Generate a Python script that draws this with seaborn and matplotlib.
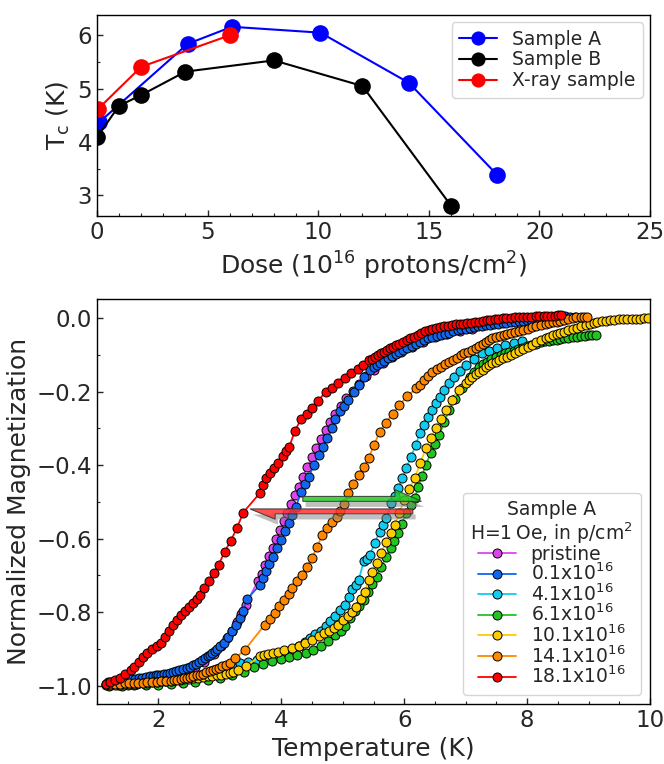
import matplotlib
matplotlib.use("Agg")
import matplotlib.pyplot as plt
import matplotlib.patheffects as pe
from matplotlib.ticker import MultipleLocator
import pandas as pd
import seaborn as sns

# ---- top panel: Tc vs dose ----
dose_a = [0.1, 4.1, 6.1, 10.1, 14.1, 18.1]
tc_a = [4.37, 5.84, 6.16, 6.05, 5.11, 3.38]
dose_b = [0.0, 1.0, 2.0, 4.0, 8.0, 12.0, 16.0]
tc_b = [4.09, 4.68, 4.88, 5.32, 5.53, 5.05, 2.81]
dose_x = [0.05, 2.0, 6.0]
tc_x = [4.62, 5.41, 6.0]
top_labels = ["Sample A", "Sample B", "X-ray sample"]
top_colors = ["#0000ff", "#000000", "#ff0000"]

# ---- bottom panel: normalized magnetization vs temperature ----
dose_labels = ["pristine", "0.1x10$^{16}$", "4.1x10$^{16}$", "6.1x10$^{16}$",
               "10.1x10$^{16}$", "14.1x10$^{16}$", "18.1x10$^{16}$"]
curve_colors = ["#dd44ee", "#1166ee", "#11ccee", "#22c422", "#ffcc00", "#ff8800", "#ff0000"]

t_pristine = [1.20, 1.40, 1.60, 1.80, 2.00, 2.20, 2.40, 2.60, 2.75, 2.90, 3.02, 3.12, 3.20, 3.28,
              3.35, 3.42, 3.62, 3.68, 3.74, 3.80, 3.86, 3.92, 3.98, 4.04, 4.10, 4.16, 4.22, 4.28,
              4.35, 4.42, 4.50, 4.57, 4.64, 4.72, 4.80, 4.88, 4.97, 5.06, 5.16, 5.26, 5.38, 5.50,
              5.65, 5.80, 5.95, 6.12, 6.30, 6.50, 6.70, 6.90, 7.10]
m_pristine = [-0.995, -0.99, -0.985, -0.98, -0.975, -0.968, -0.96, -0.948, -0.935, -0.915, -0.893,
              -0.87, -0.85, -0.828, -0.805, -0.78, -0.715, -0.695, -0.672, -0.648, -0.625, -0.600,
              -0.576, -0.553, -0.530, -0.505, -0.48, -0.458, -0.432, -0.405, -0.378, -0.352, -0.330,
              -0.305, -0.282, -0.26, -0.238, -0.218, -0.198, -0.178, -0.158, -0.14, -0.122, -0.106,
              -0.092, -0.078, -0.064, -0.052, -0.043, -0.035, -0.028]

t_01 = [1.18, 1.23, 1.28, 1.33, 1.38, 1.44, 1.50, 1.56, 1.62, 1.68, 1.74, 1.80, 1.86, 1.91, 1.96,
        2.00, 2.04, 2.09, 2.14, 2.19, 2.24, 2.29, 2.34, 2.40, 2.47, 2.52, 2.56, 2.61, 2.66, 2.71,
        2.76, 2.80, 2.84, 2.88, 2.92, 2.96, 3.00, 3.06, 3.13, 3.19, 3.26, 3.33, 3.38, 3.44, 3.65,
        3.70, 3.75, 3.80, 3.86, 3.93, 4.00, 4.06, 4.13, 4.18, 4.24, 4.32, 4.38, 4.45, 4.53, 4.61,
        4.68, 4.75, 4.82, 4.88, 4.96, 5.02, 5.09, 5.18, 5.26, 5.35, 5.44, 5.50, 5.55, 5.61, 5.67,
        5.73, 5.80, 5.86, 5.92, 5.98, 6.05, 6.12, 6.19, 6.25, 6.32, 6.39, 6.46, 6.53, 6.60, 6.66,
        6.73, 6.80, 6.87, 6.93, 7.00, 7.07, 7.14, 7.20, 7.27, 7.33, 7.40, 7.46, 7.53, 7.60, 7.66,
        7.73, 7.80, 7.87, 7.94, 8.00, 8.07, 8.14, 8.20, 8.27, 8.34, 8.41, 8.48, 8.55, 8.62, 8.70,
        8.78]
m_01 = [-0.99, -0.99, -0.99, -0.988, -0.987, -0.986, -0.984, -0.983, -0.981, -0.98, -0.978,
        -0.977, -0.975, -0.974, -0.972, -0.971, -0.970, -0.969, -0.967, -0.965, -0.962, -0.96,
        -0.958, -0.955, -0.952, -0.948, -0.944, -0.94, -0.935, -0.93, -0.925, -0.92, -0.916,
        -0.91, -0.905, -0.899, -0.893, -0.884, -0.868, -0.852, -0.835, -0.816, -0.797, -0.765,
        -0.726, -0.707, -0.689, -0.670, -0.649, -0.626, -0.603, -0.580, -0.558, -0.535, -0.513,
        -0.472, -0.452, -0.431, -0.40, -0.372, -0.35, -0.327, -0.30, -0.273, -0.253, -0.238,
        -0.223, -0.202, -0.182, -0.161, -0.141, -0.134, -0.128, -0.122, -0.116, -0.109, -0.103,
        -0.097, -0.092, -0.087, -0.082, -0.076, -0.07, -0.065, -0.06, -0.055, -0.051, -0.048,
        -0.045, -0.042, -0.039, -0.036, -0.033, -0.030, -0.028, -0.026, -0.024, -0.022, -0.021,
        -0.019, -0.018, -0.016, -0.0145, -0.013, -0.012, -0.010, -0.009, -0.008, -0.007, -0.006,
        -0.005, -0.003, -0.002, 0.0, 0.001, 0.002, 0.003, 0.004, 0.005, 0.004, 0.004]

t_41 = [1.20, 1.35, 1.50, 1.65, 1.80, 1.95, 2.10, 2.25, 2.40, 2.55, 2.70, 2.85, 3.00, 3.15, 3.25,
        3.33, 3.45, 3.60, 3.75, 3.90, 4.05, 4.18, 4.29, 4.38, 4.47, 4.55, 4.64, 4.72, 4.80, 4.88,
        4.96, 5.04, 5.10, 5.15, 5.21, 5.26, 5.34, 5.39, 5.44, 5.52, 5.60, 5.65, 5.71, 5.79, 5.85,
        5.90, 5.97, 6.03, 6.11, 6.19, 6.25, 6.32, 6.38, 6.45, 6.51, 6.58, 6.65, 6.73, 6.81, 6.90,
        7.00, 7.13, 7.26, 7.38, 7.51, 7.64, 7.78, 7.92]
m_41 = [-0.998, -0.997, -0.997, -0.995, -0.993, -0.99, -0.988, -0.985, -0.982, -0.978, -0.975,
        -0.97, -0.965, -0.958, -0.952, -0.938, -0.935, -0.93, -0.926, -0.921, -0.912, -0.902,
        -0.893, -0.882, -0.870, -0.860, -0.850, -0.839, -0.825, -0.81, -0.795, -0.781, -0.760,
        -0.738, -0.725, -0.712, -0.662, -0.655, -0.644, -0.612, -0.581, -0.562, -0.544, -0.504,
        -0.483, -0.463, -0.436, -0.409, -0.377, -0.345, -0.313, -0.290, -0.268, -0.250, -0.232,
        -0.214, -0.196, -0.177, -0.159, -0.143, -0.128, -0.112, -0.096, -0.088, -0.080, -0.073,
        -0.067, -0.061]

t_61 = [1.20, 1.40, 1.60, 1.80, 2.00, 2.20, 2.40, 2.60, 2.80, 3.00, 3.20, 3.40, 3.55, 3.70, 3.85,
        4.00, 4.12, 4.26, 4.40, 4.52, 4.64, 4.76, 4.88, 4.97, 5.04, 5.12, 5.20, 5.27, 5.34, 5.41,
        5.48, 5.55, 5.63, 5.71, 5.78, 5.84, 5.90, 5.96, 6.03, 6.11, 6.17, 6.23, 6.29, 6.35, 6.43,
        6.50, 6.57, 6.65, 6.73, 6.83, 6.94, 7.07, 7.14, 7.21, 7.28, 7.35, 7.42, 7.50, 7.57, 7.64,
        7.71, 7.78, 7.85, 7.92, 8.00, 8.07, 8.15, 8.22, 8.29, 8.36, 8.42, 8.48, 8.54, 8.60, 8.67,
        8.74, 8.81, 8.88, 8.94, 9.00, 9.06, 9.12]
m_61 = [-1.0, -1.0, -0.999, -0.998, -0.997, -0.995, -0.993, -0.99, -0.985, -0.98, -0.972, -0.962,
        -0.95, -0.94, -0.934, -0.928, -0.922, -0.917, -0.911, -0.902, -0.892, -0.878, -0.862,
        -0.850, -0.839, -0.815, -0.797, -0.782, -0.766, -0.745, -0.724, -0.703, -0.676, -0.649,
        -0.625, -0.605, -0.585, -0.560, -0.531, -0.508, -0.490, -0.460, -0.430, -0.399, -0.368,
        -0.342, -0.318, -0.283, -0.25, -0.220, -0.191, -0.160, -0.146, -0.132, -0.125, -0.118,
        -0.112, -0.106, -0.101, -0.096, -0.092, -0.088, -0.084, -0.080, -0.076, -0.073, -0.069,
        -0.066, -0.063, -0.061, -0.059, -0.058, -0.056, -0.055, -0.053, -0.052, -0.050, -0.049,
        -0.048, -0.047, -0.046, -0.045]

t_101 = [1.15, 1.22, 1.30, 1.37, 1.45, 1.52, 1.60, 1.67, 1.75, 1.82, 1.90, 1.97, 2.05, 2.12, 2.20,
         2.27, 2.35, 2.42, 2.50, 2.57, 2.65, 2.72, 2.80, 2.87, 2.95, 3.02, 3.10, 3.16, 3.22, 3.30,
         3.43, 3.65, 3.72, 3.79, 3.86, 3.95, 4.05, 4.18, 4.28, 4.39, 4.50, 4.61, 4.70, 4.78, 4.86,
         4.93, 5.00, 5.08, 5.15, 5.22, 5.29, 5.36, 5.42, 5.48, 5.55, 5.62, 5.71, 5.78, 5.85, 5.92,
         6.00, 6.08, 6.17, 6.26, 6.35, 6.43, 6.51, 6.60, 6.68, 6.78, 6.89, 7.00, 7.05, 7.10, 7.16,
         7.22, 7.28, 7.33, 7.38, 7.43, 7.49, 7.55, 7.61, 7.68, 7.74, 7.80, 7.87, 7.94, 8.01, 8.08,
         8.15, 8.23, 8.30, 8.36, 8.42, 8.48, 8.54, 8.60, 8.67, 8.74, 8.81, 8.88, 8.95, 9.02, 9.08,
         9.14, 9.21, 9.28, 9.35, 9.42, 9.49, 9.56, 9.63, 9.70, 9.77, 9.84, 9.90, 9.97]
m_101 = [-0.998, -0.998, -0.998, -0.997, -0.996, -0.996, -0.995, -0.994, -0.993, -0.992, -0.99,
         -0.989, -0.988, -0.987, -0.986, -0.985, -0.984, -0.983, -0.981, -0.98, -0.978, -0.977,
         -0.975, -0.974, -0.972, -0.97, -0.968, -0.965, -0.962, -0.957, -0.947, -0.920, -0.916,
         -0.914, -0.911, -0.908, -0.903, -0.898, -0.892, -0.884, -0.876, -0.866, -0.858, -0.851,
         -0.842, -0.834, -0.822, -0.810, -0.800, -0.785, -0.765, -0.744, -0.712, -0.69, -0.667,
         -0.64, -0.608, -0.585, -0.562, -0.530, -0.495, -0.465, -0.436, -0.395, -0.354, -0.327,
         -0.300, -0.275, -0.25, -0.222, -0.196, -0.177, -0.168, -0.159, -0.152, -0.146, -0.140,
         -0.134, -0.128, -0.123, -0.118, -0.114, -0.109, -0.105, -0.100, -0.096, -0.090, -0.084,
         -0.078, -0.072, -0.066, -0.060, -0.055, -0.051, -0.047, -0.044, -0.040, -0.037, -0.033,
         -0.030, -0.026, -0.022, -0.018, -0.015, -0.012, -0.010, -0.008, -0.007, -0.005, -0.004,
         -0.003, -0.002, -0.001, -0.001, -0.001, -0.001, 0.0, 0.0]

t_141 = [1.15, 1.22, 1.30, 1.37, 1.45, 1.52, 1.60, 1.67, 1.75, 1.82, 1.90, 1.97, 2.05, 2.12, 2.20,
         2.26, 2.31, 2.37, 2.42, 2.47, 2.52, 2.57, 2.62, 2.67, 2.72, 2.78, 2.84, 2.89, 2.94, 2.99,
         3.04, 3.10, 3.16, 3.25, 3.41, 3.73, 3.81, 3.89, 3.97, 4.05, 4.12, 4.18, 4.26, 4.34, 4.42,
         4.50, 4.58, 4.67, 4.75, 4.83, 4.90, 4.96, 5.02, 5.09, 5.17, 5.26, 5.34, 5.42, 5.51, 5.60,
         5.70, 5.81, 5.92, 6.05, 6.19, 6.25, 6.32, 6.39, 6.46, 6.53, 6.60, 6.66, 6.73, 6.80, 6.86,
         6.92, 6.98, 7.04, 7.10, 7.16, 7.22, 7.28, 7.33, 7.38, 7.43, 7.50, 7.56, 7.62, 7.68, 7.74,
         7.80, 7.87, 7.94, 8.01, 8.08, 8.15, 8.23, 8.30, 8.36, 8.42, 8.48, 8.54, 8.60, 8.67, 8.74,
         8.80, 8.87, 8.93, 8.98]
m_141 = [-0.995, -0.996, -0.996, -0.995, -0.993, -0.993, -0.993, -0.992, -0.992, -0.991, -0.99,
         -0.989, -0.988, -0.987, -0.986, -0.985, -0.984, -0.982, -0.98, -0.978, -0.976, -0.974,
         -0.972, -0.97, -0.967, -0.964, -0.961, -0.958, -0.955, -0.951, -0.947, -0.943, -0.938,
         -0.925, -0.902, -0.834, -0.818, -0.802, -0.784, -0.766, -0.750, -0.735, -0.716, -0.698,
         -0.676, -0.653, -0.622, -0.590, -0.572, -0.554, -0.540, -0.525, -0.505, -0.476, -0.452,
         -0.427, -0.404, -0.381, -0.345, -0.309, -0.285, -0.26, -0.236, -0.213, -0.191, -0.181,
         -0.168, -0.157, -0.146, -0.139, -0.132, -0.125, -0.119, -0.113, -0.107, -0.101, -0.096,
         -0.092, -0.087, -0.081, -0.075, -0.069, -0.064, -0.059, -0.055, -0.051, -0.048, -0.045,
         -0.042, -0.039, -0.037, -0.034, -0.031, -0.028, -0.025, -0.022, -0.019, -0.016, -0.014,
         -0.011, -0.009, -0.007, -0.005, -0.002, 0.0, 0.002, 0.004, 0.004, 0.003]

t_181 = [1.15, 1.22, 1.30, 1.38, 1.46, 1.55, 1.61, 1.68, 1.75, 1.82, 1.90, 1.97, 2.04, 2.10, 2.17,
         2.24, 2.30, 2.36, 2.43, 2.50, 2.56, 2.62, 2.68, 2.75, 2.82, 2.90, 2.98, 3.08, 3.18, 3.28,
         3.38, 3.65, 3.70, 3.75, 3.82, 3.88, 3.94, 4.02, 4.08, 4.13, 4.22, 4.32, 4.42, 4.50, 4.60,
         4.72, 4.82, 4.93, 5.04, 5.14, 5.24, 5.33, 5.42, 5.47, 5.52, 5.57, 5.62, 5.67, 5.72, 5.77,
         5.82, 5.87, 5.92, 5.98, 6.04, 6.10, 6.16, 6.22, 6.28, 6.34, 6.40, 6.46, 6.52, 6.58, 6.65,
         6.72, 6.78, 6.84, 6.90, 6.96, 7.02, 7.08, 7.15, 7.22, 7.28, 7.34, 7.40, 7.47, 7.53, 7.60,
         7.66, 7.73, 7.80, 7.87, 7.94, 8.00, 8.07, 8.14, 8.20, 8.27, 8.33, 8.39, 8.45, 8.50, 8.55]
m_181 = [-0.995, -0.99, -0.985, -0.978, -0.968, -0.957, -0.948, -0.935, -0.922, -0.91, -0.90,
         -0.893, -0.884, -0.868, -0.852, -0.836, -0.82, -0.807, -0.797, -0.786, -0.776, -0.764,
         -0.753, -0.735, -0.715, -0.693, -0.671, -0.635, -0.605, -0.57, -0.529, -0.476, -0.455,
         -0.436, -0.42, -0.408, -0.395, -0.375, -0.362, -0.35, -0.307, -0.275, -0.26, -0.245,
         -0.225, -0.20, -0.19, -0.177, -0.164, -0.15, -0.138, -0.126, -0.114, -0.11, -0.105, -0.10,
         -0.096, -0.091, -0.087, -0.082, -0.078, -0.073, -0.069, -0.064, -0.06, -0.055, -0.05,
         -0.045, -0.04, -0.035, -0.031, -0.028, -0.026, -0.024, -0.022, -0.020, -0.019, -0.017,
         -0.016, -0.015, -0.014, -0.012, -0.011, -0.009, -0.007, -0.005, -0.004, -0.002, -0.001,
         0.0, 0.0, 0.001, 0.002, 0.003, 0.003, 0.004, 0.004, 0.005, 0.005, 0.006, 0.006, 0.006,
         0.006, 0.008, 0.008]

temps = [t_pristine, t_01, t_41, t_61, t_101, t_141, t_181]
mags = [m_pristine, m_01, m_41, m_61, m_101, m_141, m_181]

sns.set_style("ticks")
plt.rcParams.update({
    "font.family": ["DejaVu Sans"],
    "xtick.direction": "in",
    "ytick.direction": "in",
    "axes.edgecolor": "black",
    "axes.linewidth": 1.0,
})

fig = plt.figure(figsize=(6.64, 7.64), dpi=100)
ax_top = fig.add_axes([0.146, 0.717, 0.833, 0.264])
ax_bot = fig.add_axes([0.146, 0.0785, 0.833, 0.530])

top_df = pd.concat([
    pd.DataFrame({"dose": d, "tc": t, "sample": lab})
    for d, t, lab in zip([dose_a, dose_b, dose_x], [tc_a, tc_b, tc_x], top_labels)
], ignore_index=True)
sns.lineplot(data=top_df, x="dose", y="tc", hue="sample", hue_order=top_labels,
             palette=top_colors, marker="o", markersize=12, markeredgewidth=0,
             linewidth=1.5, estimator=None, sort=False, legend=False, ax=ax_top)
ax_top.legend(ax_top.get_lines()[:3], top_labels, loc="upper right", fontsize=13.5,
              labelspacing=0.1, markerscale=0.85, borderaxespad=0.4)
ax_top.set_xlim(0, 25)
ax_top.set_ylim(2.61, 6.39)
ax_top.xaxis.set_major_locator(MultipleLocator(5))
ax_top.xaxis.set_minor_locator(MultipleLocator(1))
ax_top.yaxis.set_major_locator(MultipleLocator(1))
ax_top.yaxis.set_minor_locator(MultipleLocator(0.5))
ax_top.set_xlabel("Dose (10$^{16}$ protons/cm$^2$)", fontsize=18)
ax_top.set_ylabel("T$_{\\rm c}$ (K)", fontsize=18)

bot_df = pd.concat([
    pd.DataFrame({"T": t, "M": m, "dose": lab})
    for t, m, lab in zip(temps, mags, dose_labels)
], ignore_index=True)
sns.lineplot(data=bot_df, x="T", y="M", hue="dose", hue_order=dose_labels,
             palette=curve_colors, marker="o", markersize=6.5, markeredgecolor="black",
             markeredgewidth=0.7, linewidth=1.3, estimator=None, sort=False,
             legend=False, ax=ax_bot)
leg = ax_bot.legend(ax_bot.get_lines()[:7], dose_labels, loc="lower right", fontsize=13.5,
                    labelspacing=-0.05, title="Sample A\nH=1\u2009Oe, in p/cm$^2$",
                    title_fontsize=13.5)
leg.get_title().set_multialignment("center")
leg.get_title().set_linespacing(1.05)
ax_bot.set_xlim(1, 10)
ax_bot.set_ylim(-1.05, 0.052)
ax_bot.xaxis.set_major_locator(MultipleLocator(2))
ax_bot.xaxis.set_minor_locator(MultipleLocator(0.5))
ax_bot.yaxis.set_major_locator(MultipleLocator(0.2))
ax_bot.yaxis.set_minor_locator(MultipleLocator(0.1))
ax_bot.set_xlabel("Temperature (K)", fontsize=18)
ax_bot.set_ylabel("Normalized Magnetization", fontsize=18)

shadow = [pe.withSimplePatchShadow(offset=(2, -4), shadow_rgbFace="gray", alpha=0.5)]
ax_bot.arrow(4.35, -0.4985, 1.93, 0, width=0.027, head_width=0.064, head_length=0.43,
             shape="right", length_includes_head=True, fc="#22cc22", ec="#333333",
             lw=0.8, alpha=0.85, zorder=5, path_effects=shadow)
ax_bot.arrow(6.14, -0.519, -2.65, 0, width=0.027, head_width=0.056, head_length=0.41,
             shape="right", length_includes_head=True, fc="#ff3333", ec="#333333",
             lw=0.8, alpha=0.85, zorder=5, path_effects=shadow)

for ax in (ax_top, ax_bot):
    ax.tick_params(which="major", labelsize=16.5, length=4, width=1)
    ax.tick_params(which="minor", length=2.5, width=0.8)

fig.savefig("out.png", dpi=100)
